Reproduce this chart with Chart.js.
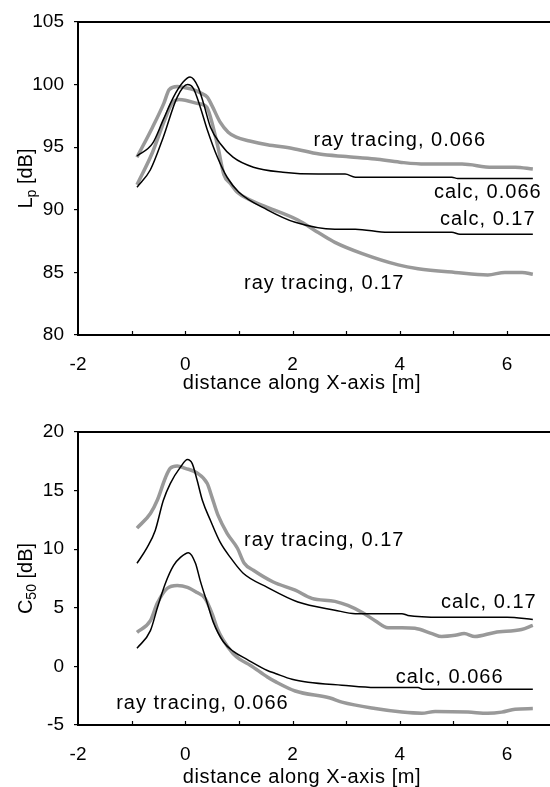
<!DOCTYPE html>
<html>
<head>
<meta charset="utf-8">
<script src="https://cdn.jsdelivr.net/npm/chart.js@4.4.1/dist/chart.umd.min.js"></script>
<style>
  html, body { margin: 0; padding: 0; background: #fff; }
  .box { position: absolute; left: 0; width: 550px; }
  #top { top: 0; height: 393px; }
  #bot { top: 393px; height: 394px; }
</style>
</head>
<body>
<div class="box" id="top"><canvas id="lp"></canvas></div>
<div class="box" id="bot"><canvas id="c50"></canvas></div>
<script>
// ---- Lp (top panel) ----
const lpRay066X = [-0.9, -0.61, -0.4, -0.3, -0.15, 0, 0.15, 0.3, 0.41, 0.5, 0.65, 0.8, 0.95, 1.2, 1.53, 2.0, 2.5, 3.0, 3.54, 4.0, 4.47, 5.16, 5.72, 6.15, 6.48];
const lpRay066Y = [94.2, 96.6, 98.5, 99.6, 99.85, 99.75, 99.6, 99.3, 99.0, 98.3, 97.0, 96.2, 95.8, 95.5, 95.2, 94.9, 94.45, 94.25, 94.05, 93.8, 93.65, 93.65, 93.4, 93.4, 93.25];
const lpRay017X = [-0.9, -0.61, -0.4, -0.25, -0.12, 0, 0.22, 0.4, 0.47, 0.61, 0.72, 0.84, 0.97, 1.2, 1.53, 2.09, 2.51, 2.79, 3.3, 3.97, 4.34, 5.03, 5.64, 5.96, 6.28, 6.48];
const lpRay017Y = [92.0, 94.6, 97.0, 98.5, 98.8, 98.75, 98.5, 98.2, 97.4, 95.0, 92.8, 92.1, 91.4, 90.8, 90.2, 89.2, 88.1, 87.4, 86.5, 85.6, 85.3, 85.0, 84.8, 85.0, 85.0, 84.85];
const lpCalc066X = [-0.9, -0.61, -0.41, -0.22, -0.04, 0.09, 0.24, 0.34, 0.47, 0.65, 0.89, 1.27, 1.82, 2.48, 2.98, 3.17, 4.97, 5.08, 6.48];
const lpCalc066Y = [94.3, 95.3, 97.2, 99.0, 100.2, 100.6, 99.8, 98.5, 96.6, 95.3, 94.2, 93.4, 93.0, 92.85, 92.85, 92.6, 92.6, 92.5, 92.5];
const lpCalc017X = [-0.9, -0.65, -0.41, -0.15, 0.04, 0.15, 0.28, 0.41, 0.6, 0.78, 1.0, 1.53, 2.05, 2.79, 3.17, 3.78, 4.97, 5.12, 6.48];
const lpCalc017Y = [91.8, 93.2, 95.8, 99.0, 100.0, 99.7, 98.2, 96.4, 94.2, 92.6, 91.4, 90.0, 89.0, 88.45, 88.45, 88.2, 88.2, 88.05, 88.05];
const lpLabels = [
  { text: 'ray tracing, 0.066', x: 4.0, y: 95.56 },
  { text: 'calc, 0.066', x: 5.64, y: 91.4 },
  { text: 'calc, 0.17', x: 5.64, y: 89.2 },
  { text: 'ray tracing, 0.17', x: 2.59, y: 84.15 }
];

// ---- C50 (bottom panel) ----
const c50Ray017X = [-0.9, -0.65, -0.52, -0.37, -0.28, -0.15, 0, 0.22, 0.41, 0.5, 0.61, 0.78, 0.97, 1.1, 1.27, 1.64, 2.05, 2.36, 2.79, 3.03, 3.3, 3.54, 3.78, 4.04, 4.28, 4.6, 4.78, 5.03, 5.2, 5.4, 5.77, 6.27, 6.48];
const c50Ray017Y = [11.8, 13.05, 14.2, 16.1, 16.9, 17.1, 16.9, 16.5, 15.6, 14.4, 12.9, 11.35, 10.1, 8.8, 8.2, 7.2, 6.5, 5.8, 5.55, 5.2, 4.6, 3.9, 3.3, 3.3, 3.25, 2.8, 2.55, 2.65, 2.8, 2.55, 2.9, 3.15, 3.5];
const c50Calc017X = [-0.9, -0.71, -0.56, -0.41, -0.28, -0.09, 0.04, 0.13, 0.22, 0.32, 0.47, 0.65, 0.84, 1.08, 1.53, 2.1, 2.79, 3.17, 4.04, 4.15, 4.78, 6.0, 6.48];
const c50Calc017Y = [8.8, 10.15, 11.6, 14.15, 15.6, 17.0, 17.65, 17.3, 15.9, 14.15, 12.45, 10.6, 9.3, 7.95, 6.75, 5.5, 4.8, 4.5, 4.5, 4.35, 4.2, 4.2, 4.0];
const c50Ray066X = [-0.9, -0.65, -0.52, -0.34, -0.15, 0.04, 0.22, 0.37, 0.5, 0.6, 0.7, 0.89, 1.02, 1.21, 1.53, 1.68, 2.05, 2.7, 2.92, 3.54, 4.04, 4.41, 4.66, 5.27, 5.64, 5.9, 6.15, 6.48];
const c50Ray066Y = [2.9, 3.9, 5.4, 6.65, 6.9, 6.75, 6.3, 5.8, 4.5, 3.2, 2.3, 1.1, 0.6, 0.1, -0.9, -1.3, -2.1, -2.7, -3.05, -3.6, -3.9, -4.0, -3.85, -3.9, -4.0, -3.9, -3.65, -3.6];
const c50Calc066X = [-0.9, -0.65, -0.52, -0.37, -0.22, -0.09, 0.06, 0.19, 0.28, 0.41, 0.52, 0.71, 0.89, 1.15, 1.53, 1.68, 1.99, 2.29, 2.92, 3.54, 4.34, 4.43, 6.48];
const c50Calc066Y = [1.55, 3.05, 5.0, 7.1, 8.6, 9.3, 9.7, 8.8, 7.3, 5.4, 3.8, 2.1, 1.3, 0.6, -0.35, -0.6, -1.1, -1.35, -1.6, -1.8, -1.8, -1.95, -1.95];
const c50Labels = [
  { text: 'ray tracing, 0.17', x: 2.59, y: 10.75 },
  { text: 'calc, 0.17', x: 5.66, y: 5.46 },
  { text: 'calc, 0.066', x: 4.93, y: -0.94 },
  { text: 'ray tracing, 0.066', x: 0.32, y: -3.16 }
];

const FONT = "'Liberation Sans', Arial, sans-serif";
const GRAY = '#999999';
Chart.defaults.font.family = FONT;
Chart.defaults.color = '#000';

function pts(xs, ys) {
  return xs.map((x, i) => ({ x: x, y: ys[i] }));
}

function line(xs, ys, color, width, order) {
  return {
    data: pts(xs, ys),
    borderColor: color,
    borderWidth: width,
    pointRadius: 0,
    showLine: true,
    fill: false,
    cubicInterpolationMode: 'monotone',
    order: order
  };
}

// top border, inward x ticks, y title with subscript, curve labels, x title
const decor = {
  id: 'decor',
  afterDraw(chart, args, opts) {
    const ctx = chart.ctx;
    const a = chart.chartArea;
    const xs = chart.scales.x;
    const ys = chart.scales.y;
    ctx.save();
    ctx.strokeStyle = '#000';
    ctx.lineWidth = 2;
    ctx.beginPath();
    ctx.moveTo(a.left - 1, a.top);
    ctx.lineTo(a.right, a.top);
    ctx.stroke();

    ctx.lineWidth = 1.2;
    ctx.beginPath();
    for (let v = Math.ceil(xs.min) + 1; v <= xs.max; v++) {
      const px = Math.round(xs.getPixelForValue(v)) + 0.5;
      ctx.moveTo(px, a.bottom);
      ctx.lineTo(px, a.bottom - 4);
    }
    ctx.stroke();

    ctx.fillStyle = '#000';
    // curve labels
    ctx.font = '20px ' + FONT;
    ctx.letterSpacing = '1px';
    ctx.textAlign = 'center';
    ctx.textBaseline = 'middle';
    opts.labels.forEach(l => {
      ctx.fillText(l.text, xs.getPixelForValue(l.x), ys.getPixelForValue(l.y));
    });

    // x title
    ctx.letterSpacing = '0.6px';
    ctx.fillText('distance along X-axis [m]', (a.left + a.right) / 2 - 12, chart.height - 10);
    ctx.letterSpacing = '0px';

    // y title, rotated, with subscript
    const [main, sub, rest] = opts.yTitle;
    const big = '20px ' + FONT, small = '14px ' + FONT;
    ctx.font = big;
    const w1 = ctx.measureText(main).width;
    const w3 = ctx.measureText(rest).width;
    ctx.font = small;
    const w2 = ctx.measureText(sub).width;
    const total = w1 + w2 + w3;
    ctx.translate(32, (a.top + a.bottom) / 2);
    ctx.rotate(-Math.PI / 2);
    ctx.textAlign = 'left';
    ctx.textBaseline = 'alphabetic';
    let x0 = -total / 2;
    ctx.font = big;
    ctx.fillText(main, x0, 0);
    ctx.font = small;
    ctx.fillText(sub, x0 + w1, 4);
    ctx.font = big;
    ctx.fillText(rest, x0 + w1 + w2, 0);
    ctx.restore();
  }
};

function makeChart(id, datasets, yMin, yMax, yStep, topPad, axisH, labels, yTitle) {
  return new Chart(document.getElementById(id), {
    type: 'scatter',
    data: { datasets: datasets },
    plugins: [decor],
    options: {
      responsive: true,
      maintainAspectRatio: false,
      animation: false,
      layout: { padding: { top: topPad, left: 0, right: 0, bottom: 0 } },
      plugins: {
        legend: { display: false },
        tooltip: { enabled: false },
        decor: { labels: labels, yTitle: yTitle }
      },
      scales: {
        x: {
          type: 'linear',
          min: -2,
          max: 6.8,
          afterFit: s => { s.height = axisH; s.paddingLeft = 0; s.paddingRight = 0; },
          grid: { display: false },
          border: { display: true, color: '#000', width: 2 },
          ticks: {
            stepSize: 1,
            includeBounds: false,
            autoSkip: false,
            maxRotation: 0,
            padding: 10,
            font: { size: 19 },
            color: '#000',
            callback: v => (Number.isInteger(v) && v % 2 === 0) ? String(v) : ''
          }
        },
        y: {
          min: yMin,
          max: yMax,
          afterFit: s => { s.width = 78; },
          grid: { drawOnChartArea: false, drawTicks: true, tickLength: 4, color: '#000', lineWidth: 1.2 },
          border: { display: true, color: '#000', width: 2 },
          ticks: { stepSize: yStep, padding: 10, font: { size: 19 }, color: '#000' }
        }
      }
    }
  });
}

makeChart('lp', [
  line(lpCalc066X, lpCalc066Y, '#000', 1.5, 1),
  line(lpCalc017X, lpCalc017Y, '#000', 1.5, 1),
  line(lpRay066X, lpRay066Y, GRAY, 3.5, 2),
  line(lpRay017X, lpRay017Y, GRAY, 3.5, 2)
], 80, 105, 5, 22, 58, lpLabels, ['L', 'p', ' [dB]']);

makeChart('c50', [
  line(c50Calc017X, c50Calc017Y, '#000', 1.5, 1),
  line(c50Calc066X, c50Calc066Y, '#000', 1.5, 1),
  line(c50Ray017X, c50Ray017Y, GRAY, 3.5, 2),
  line(c50Ray066X, c50Ray066Y, GRAY, 3.5, 2)
], -5, 20, 5, 39, 62, c50Labels, ['C', '50', ' [dB]']);
</script>
</body>
</html>
